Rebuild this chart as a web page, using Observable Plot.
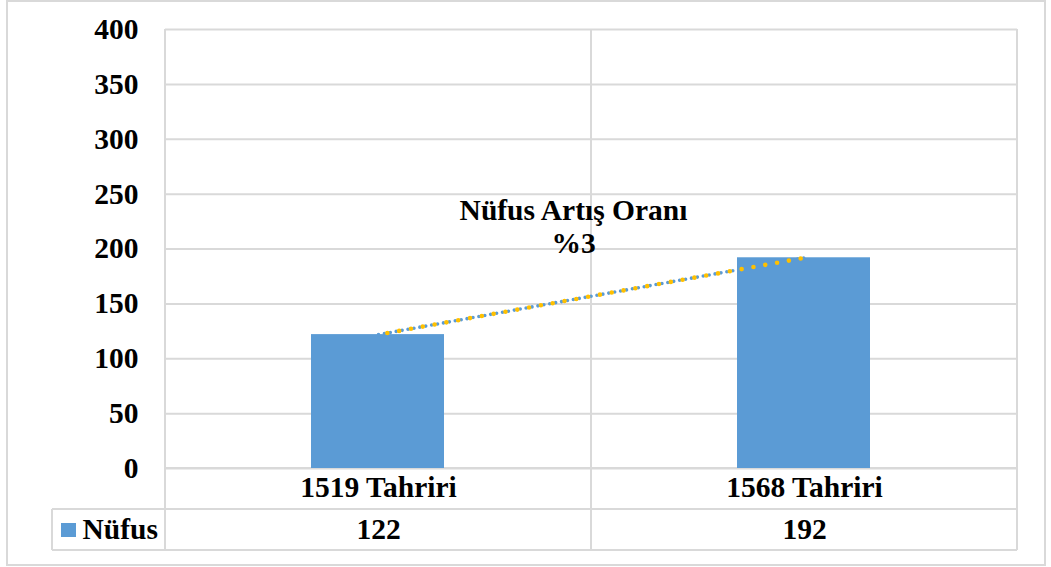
<!DOCTYPE html>
<html><head><meta charset="utf-8">
<script src="https://cdn.jsdelivr.net/npm/d3@7"></script>
<script src="https://cdn.jsdelivr.net/npm/@observablehq/plot@0.6"></script>
<style>body{margin:0;background:#fff}</style>
</head><body><div id="chart"></div>
<script>
const categories = ["1519 Tahriri", "1568 Tahriri"];
const populations = [122, 192];
const seriesName = "Nüfus";
const yTicks = [0, 50, 100, 150, 200, 250, 300, 350, 400];
const annotationLines = ["Nüfus Artış Oranı", "%3"];

(function () {
const data = categories.map((c, i) => ({category: c, value: populations[i]}));
const FONT = "'Liberation Serif', 'Times New Roman', serif";
const FS = 29.5;
const GRID = "#d9d9d9";
const BLUE = "#5B9BD5";
const GOLD = "#FFC000";

const chart = Plot.plot({
  width: 1051, height: 567,
  marginLeft: 165, marginRight: 34, marginTop: 29, marginBottom: 99,
  style: {fontFamily: FONT, fontWeight: "bold", fontSize: FS + "px", color: "#000", background: "transparent", overflow: "visible"},
  x: {domain: categories, padding: 0, axis: null},
  y: {domain: [0, 400], axis: null},
  marks: [
    Plot.gridY(yTicks, {stroke: GRID, strokeOpacity: 1, strokeWidth: 2}),
    Plot.barY(data, {x: "category", y: "value", fill: BLUE, insetLeft: 146, insetRight: 147}),
    Plot.line(data, {x: "category", y: "value", stroke: BLUE, strokeWidth: 3.6, strokeDasharray: "0 6", strokeLinecap: "round"}),
    Plot.line(data, {x: "category", y: "value", stroke: GOLD, strokeWidth: 4.6, strokeDasharray: "0 12", strokeDashoffset: 3, strokeLinecap: "round"}),
    Plot.axisY(yTicks, {label: null, tickSize: 0, tickPadding: 27, fontSize: FS, fill: "#000"}),
    Plot.text([annotationLines.join("\n")], {frameAnchor: "top", lineAnchor: "top", dy: 167, dx: -18, lineHeight: 33 / FS, fill: "#000", fontSize: FS}),
    Plot.text(data, {x: "category", text: "category", frameAnchor: "bottom", lineAnchor: "top", dy: 8, fill: "#000", fontSize: FS}),
    Plot.text(data, {x: "category", text: d => String(d.value), frameAnchor: "bottom", lineAnchor: "top", dy: 50, fill: "#000", fontSize: FS}),
    Plot.text([seriesName], {frameAnchor: "bottom-left", textAnchor: "start", lineAnchor: "top", dx: -83, dy: 50, fill: "#000", fontSize: FS})
  ]
});

const xs = chart.scale("x");
const ys = chart.scale("y");
const leftX = xs.apply(categories[0]);
const rightX = xs.apply(categories[categories.length - 1]) + xs.bandwidth;
const topY = ys.apply(400);
const baseY = ys.apply(0);
const rowH = 41;
const tableLeft = leftX - 113;

const svg = d3.select(chart);
const g = svg.insert("g", ":first-child").attr("stroke", GRID).attr("stroke-width", 2).attr("fill", "none");
g.append("rect").attr("x", 7).attr("y", 1).attr("width", 1038).attr("height", 564).attr("stroke-width", 2);
const bounds = [leftX, ...categories.map(c => xs.apply(c) + xs.bandwidth)];
bounds.forEach(bx => g.append("line").attr("x1", bx).attr("x2", bx).attr("y1", topY).attr("y2", baseY + 2 * rowH));
g.append("line").attr("x1", leftX).attr("x2", rightX).attr("y1", baseY).attr("y2", baseY);
g.append("line").attr("x1", tableLeft).attr("x2", rightX).attr("y1", baseY + rowH).attr("y2", baseY + rowH);
g.append("line").attr("x1", tableLeft).attr("x2", rightX).attr("y1", baseY + 2 * rowH).attr("y2", baseY + 2 * rowH);
g.append("line").attr("x1", tableLeft).attr("x2", tableLeft).attr("y1", baseY + rowH).attr("y2", baseY + 2 * rowH);
svg.append("rect").attr("x", tableLeft + 9).attr("y", baseY + rowH + 14).attr("width", 15).attr("height", 14).attr("fill", BLUE);

document.getElementById("chart").appendChild(chart);
})();
</script>
</body></html>
